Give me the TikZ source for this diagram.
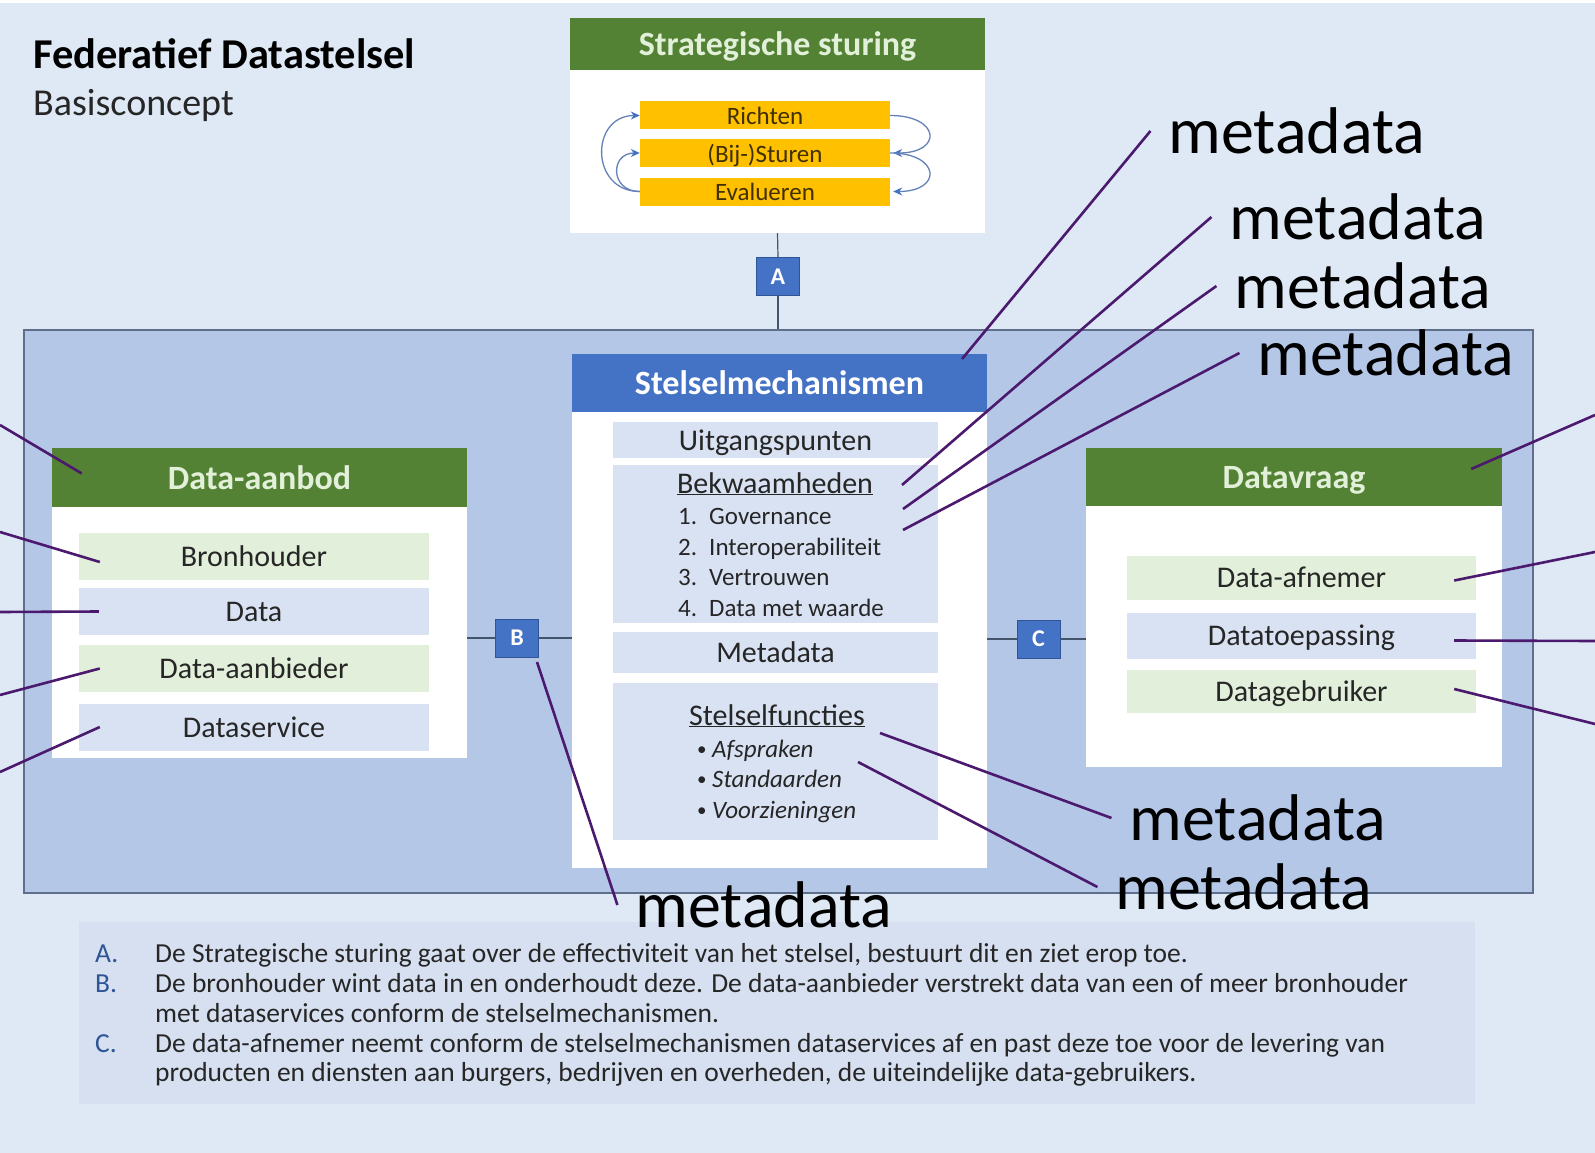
\documentclass[tikz,border=0pt]{standalone}
\usepackage{fontspec}
\setmainfont{Carlito}
\usetikzlibrary{arrows.meta}

\definecolor{bgblue}{RGB}{222,233,245}
\definecolor{outerfill}{RGB}{180,199,231}
\definecolor{outerline}{RGB}{95,110,138}
\definecolor{hdrgreen}{RGB}{84,130,53}
\definecolor{hdrblue}{RGB}{68,114,196}
\definecolor{paletext}{RGB}{226,240,217}
\definecolor{itemblue}{RGB}{217,226,243}
\definecolor{itemgreen}{RGB}{226,239,218}
\definecolor{barorange}{RGB}{255,192,0}
\definecolor{bartext}{RGB}{64,48,0}
\definecolor{darktext}{RGB}{38,38,38}
\definecolor{purpline}{RGB}{75,25,110}
\definecolor{linkgrey}{RGB}{68,84,106}
\definecolor{cyclegrey}{RGB}{100,130,185}
\definecolor{legendfill}{RGB}{214,224,240}
\definecolor{lettblue}{RGB}{47,85,151}

\newcommand{\fsz}[1]{\fontsize{#1}{#1}\selectfont}

\tikzset{
  whitebox/.style={fill=white, minimum width=415pt, inner sep=0pt},
  greenhdr/.style={fill=hdrgreen, text=paletext, font=\fsz{34}\bfseries, text depth=0pt, minimum width=415pt, inner sep=0pt},
  bluehdr/.style={fill=hdrblue, text=white, font=\fsz{34}\bfseries, text depth=0pt, minimum width=415pt, inner sep=0pt},
  itembox/.style={fill=itemblue, text=darktext, font=\fsz{30}, text depth=0pt, minimum width=350pt, minimum height=47pt, inner sep=0pt},
  greenitem/.style={itembox, fill=itemgreen},
  orangebar/.style={fill=barorange, text=bartext, font=\fsz{25}, text depth=0pt, minimum width=250pt, minimum height=28pt, inner sep=0pt},
  letterbox/.style={fill=hdrblue, draw=lettblue, line width=1pt, text=white, font=\fsz{24}\bfseries, minimum width=43pt, minimum height=38pt, inner sep=0pt},
  listtext/.style={anchor=base west, inner sep=0pt, text=darktext, font=\fsz{25}},
  metalabel/.style={font=\fsz{66}, text=black, inner ysep=0pt, inner xsep=18pt},
  metaline/.style={draw=purpline, line width=2.6pt},
  linkline/.style={draw=linkgrey, line width=1.2pt},
  cyclearrow/.style={draw=cyclegrey, line width=1.3pt, -{Stealth[length=9pt,width=8pt,color=hdrblue]}},
  legendtext/.style={anchor=base west, inner sep=0pt, text=darktext, font=\fsz{27.5}},
  legendletter/.style={legendtext, text=lettblue},
}

\begin{document}
\begin{tikzpicture}[x=1pt, y=-1pt]
  \useasboundingbox (0,0) rectangle (1595,1153);
  \fill[bgblue] (0,0) rectangle (1595,1153);
  \fill[white] (0,0) rectangle (1595,3);

  % titel
  \node[anchor=base west, inner sep=0pt, font=\fsz{42.5}\bfseries, text=black] (title) at (33,69) {Federatief Datastelsel};
  \node[anchor=base west, inner sep=0pt, font=\fsz{38}, text=darktext] (subtitle) at (33,116) {Basisconcept};

  % stelsel
  \node[draw=outerline, line width=2.5pt, fill=outerfill, minimum width=1509pt, minimum height=563pt, inner sep=0pt] (frame) at (778.5,611.5) {};

  % strategische sturing
  \node[whitebox, minimum height=215pt] (strat) at (777.5,125.5) {};
  \node[greenhdr, minimum height=52pt, anchor=north] (strathdr) at (strat.north) {Strategische sturing};
  \node[orangebar] (richten) at (765,115.5) {Richten};
  \node[orangebar] (bijsturen) at (765,153) {(Bij-)Sturen};
  \node[orangebar] (evalueren) at (765,191.5) {Evalueren};
  \draw[cyclearrow] (evalueren.west) .. controls +(-50,0) and +(-50,0) .. (richten.west);
  \draw[cyclearrow] (evalueren.west) .. controls +(-30,0) and +(-30,0) .. (bijsturen.west);
  \draw[cyclearrow] (richten.east) .. controls +(50,0) and +(50,0) .. ([xshift=3pt]bijsturen.east);
  \draw[cyclearrow] (bijsturen.east) .. controls +(50,0) and +(50,0) .. ([xshift=3pt]evalueren.east);

  \node[letterbox] (A) at (778,276.5) {A};
  \draw[linkline] (strat.south) -- (A.north);
  \draw[linkline] (A.south) -- (A |- frame.north);

  % stelselmechanismen
  \node[whitebox, minimum height=514pt] (mech) at (779.5,611) {};
  \node[bluehdr, minimum height=58pt, anchor=north] (mechhdr) at (mech.north) {Stelselmechanismen};
  \node[itembox, minimum width=325pt, minimum height=36pt] (uitg) at (775.5,440) {Uitgangspunten};
  \node[itembox, minimum width=325pt, minimum height=158pt] (bekw) at (775.5,544) {};
  \node[anchor=base, inner sep=0pt, text=darktext, font=\fsz{30}] (bekwtitle) at (775,493) {\underline{Bekwaamheden}};
  \foreach \n/\t in {1/Governance, 2/Interoperabiliteit, 3/Vertrouwen, 4/Data met waarde} {
    \node[listtext] (bknum\n) at (678,494.5+30.4*\n) {\n.};
    \node[listtext] (bk\n) at (709,494.5+30.4*\n) {\t};
  }
  \node[itembox, minimum width=325pt, minimum height=41pt] (metad) at (775.5,652.5) {Metadata};
  \node[itembox, minimum width=325pt, minimum height=157pt] (functies) at (775.5,761.5) {};
  \node[anchor=base, inner sep=0pt, text=darktext, font=\fsz{30}] (functitle) at (777,725) {\underline{Stelselfuncties}};
  \foreach \t [count=\i] in {Afspraken, Standaarden, Voorzieningen} {
    \node[listtext, font=\fsz{19}] (fbul\i) at (697,724.5+30.5*\i) {\textbullet};
    \node[listtext, font=\fsz{25}\itshape] (fn\i) at (712,726.5+30.5*\i) {\t};
  }

  % data-aanbod
  \node[whitebox, minimum height=310pt] (aanbod) at (259.5,603) {};
  \node[greenhdr, minimum height=59pt, anchor=north] (aanbodhdr) at (aanbod.north) {Data-aanbod};
  \node[greenitem] (bron) at (254,556) {Bronhouder};
  \node[itembox] (data) at (254,611.5) {Data};
  \node[greenitem] (aanbieder) at (254,668.5) {Data-aanbieder};
  \node[itembox] (dataservice) at (254,727) {Dataservice};

  % datavraag
  \node[whitebox, minimum width=416pt, minimum height=319pt] (vraag) at (1294,607.5) {};
  \node[greenhdr, minimum width=416pt, minimum height=58pt, anchor=north] (vraaghdr) at (vraag.north) {Datavraag};
  \node[greenitem, minimum width=349pt, minimum height=44pt] (afnemer) at (1301.5,577.5) {Data-afnemer};
  \node[itembox, minimum width=349pt, minimum height=46pt] (toepassing) at (1301.5,635.5) {Datatoepassing};
  \node[greenitem, minimum width=349pt, minimum height=43pt] (gebruiker) at (1301.5,691) {Datagebruiker};

  \node[letterbox] (B) at (517,638) {B};
  \draw[linkline] (B.west -| aanbod.east) -- (B.west);
  \draw[linkline] (B.east) -- (B.east -| mech.west);
  \node[letterbox] (C) at (1038.5,639) {C};
  \draw[linkline] (C.west -| mech.east) -- (C.west);
  \draw[linkline] (C.east) -- (C.east -| vraag.west);

  % toelichting
  \node[fill=legendfill, minimum width=1396pt, minimum height=182pt, inner sep=0pt] (legend) at (777,1013) {};
  \node[legendletter] (la) at (95,962) {A.};
  \node[legendtext] (ta) at (155,962) {De Strategische sturing gaat over de effectiviteit van het stelsel, bestuurt dit en ziet erop toe.};
  \node[legendletter] (lb) at (95,992) {B.};
  \node[legendtext] (tb) at (155,992) {De bronhouder wint data in en onderhoudt deze. De data-aanbieder verstrekt data van een of meer bronhouder};
  \node[legendtext] (tb2) at (155,1022) {met dataservices conform de stelselmechanismen.};
  \node[legendletter] (lc) at (95,1052) {C.};
  \node[legendtext] (tc) at (155,1052) {De data-afnemer neemt conform de stelselmechanismen dataservices af en past deze toe voor de levering van};
  \node[legendtext] (tc2) at (155,1081) {producten en diensten aan burgers, bedrijven en overheden, de uiteindelijke data-gebruikers.};

  % metadata-aantekeningen
  \coordinate (pm1) at (962,359);
  \coordinate (pm2) at (902,485);
  \coordinate (pm3) at (903,509);
  \coordinate (pm4) at (903,530);
  \coordinate (pm5) at (880,733);
  \coordinate (pm6) at (858,762);
  \coordinate (pm7) at (537,662);
  \node[metalabel] (meta1) at (1297,131) {metadata};
  \node[metalabel] (meta2) at (1358,217) {metadata};
  \node[metalabel] (meta3) at (1363,286) {metadata};
  \node[metalabel] (meta4) at (1386,353) {metadata};
  \node[metalabel] (meta5) at (1258,818) {metadata};
  \node[metalabel] (meta6) at (1244,887) {metadata};
  \node[metalabel] (meta7) at (764,905) {metadata};
  \foreach \i in {1,...,7}
    \draw[metaline] (meta\i.west) -- (pm\i);

  \coordinate (ql1) at (0,425);
  \coordinate (ql2) at (0,532);
  \coordinate (ql3) at (0,612);
  \coordinate (ql4) at (0,695);
  \coordinate (ql5) at (0,772);
  \draw[metaline] (ql1) -- ([xshift=30pt,yshift=4pt]aanbodhdr.west);
  \draw[metaline] (ql2) -- ([xshift=21pt,yshift=-6pt]bron.west);
  \draw[metaline] (ql3) -- ([xshift=20pt]data.west);
  \draw[metaline] (ql4) -- ([xshift=21pt]aanbieder.west);
  \draw[metaline] (ql5) -- ([xshift=21pt]dataservice.west);

  \coordinate (qr1) at (1595,415);
  \coordinate (qr2) at (1595,552);
  \coordinate (qr3) at (1595,641);
  \coordinate (qr4) at (1595,724);
  \draw[metaline] (qr1) -- ([xshift=-31pt,yshift=8pt]vraaghdr.east);
  \draw[metaline] (qr2) -- ([xshift=-22pt,yshift=-3pt]afnemer.east);
  \draw[metaline] (qr3) -- ([xshift=-22pt,yshift=-5pt]toepassing.east);
  \draw[metaline] (qr4) -- ([xshift=-22pt,yshift=2pt]gebruiker.east);
\end{tikzpicture}
\end{document}
